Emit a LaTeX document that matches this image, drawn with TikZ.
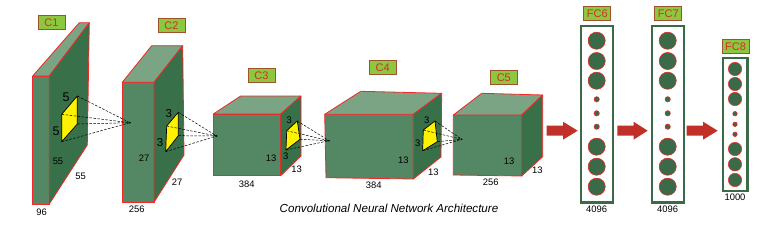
\documentclass[tikz,border=0pt]{standalone}
\usepackage{fontspec}
\setmainfont{Liberation Sans}
\definecolor{frontc}{RGB}{84,136,100}
\definecolor{topc}{RGB}{122,164,132}
\definecolor{sidec}{RGB}{56,112,74}
\definecolor{edgec}{RGB}{240,40,40}
\definecolor{labfill}{RGB}{141,198,63}
\definecolor{labdraw}{RGB}{160,82,45}
\definecolor{labtext}{RGB}{205,50,40}
\definecolor{fcgreen}{RGB}{58,106,72}
\definecolor{arrowc}{RGB}{192,48,40}
\begin{document}
\begin{tikzpicture}[x=1pt,y=-1pt,
  front/.style={fill=frontc,draw=edgec,line width=0.8pt,line join=round},
  topf/.style={fill=topc,draw=edgec,line width=0.8pt,line join=round},
  sidef/.style={fill=sidec,draw=edgec,line width=0.8pt,line join=round},
  kern/.style={fill=yellow,draw=black,line width=0.7pt,line join=round},
  dline/.style={draw=black,dash pattern=on 2.5pt off 1.5pt,line width=0.5pt},
  lab/.style={draw=labdraw,fill=labfill,text=labtext,line width=0.7pt,minimum width=27pt,minimum height=13.5pt,inner sep=0pt,font=\fontsize{11}{11}\selectfont},
  num/.style={font=\fontsize{9.4}{10}\selectfont,inner sep=0pt},
  fcbox/.style={draw=fcgreen,line width=2.4pt},
  bigc/.style={fill=fcgreen,draw=edgec,line width=0.5pt},
  arr/.style={fill=arrowc,draw=none}]
\useasboundingbox (0,0) rectangle (780,225);

% ---------- C1
\draw[front] (32.7,76) -- (49.3,76) -- (49.3,204) -- (32.7,204) -- cycle;
\draw[topf] (32.7,76) -- (79.3,22.7) -- (89.3,22.7) -- (49.3,76) -- cycle;
\draw[sidef] (49.3,76) -- (89.3,22.7) -- (87.3,145) -- (49.3,204) -- cycle;
\coordinate (k1a) at (61.7,114.3);
\coordinate (k1b) at (77.3,96);
\coordinate (k1c) at (77.3,124);
\coordinate (k1d) at (61.7,141.7);
\coordinate (t1) at (130,122.7);
\draw[kern] (k1a) -- (k1b) -- (k1c) -- (k1d) -- cycle;
\node[font=\fontsize{12.5}{12}\selectfont,inner sep=0pt] (f1a) at (66,97.7) {5};
\node[font=\fontsize{12.5}{12}\selectfont,inner sep=0pt] (f1b) at (56,131.7) {5};
\node[num] (n1a) at (58,161.7) {55};
\node[num] (n1b) at (80.7,176.7) {55};
\node[num] (n1c) at (41.7,212.3) {96};
\node[lab] (L1) at (51.5,22.5) {C1};

% ---------- C2
\draw[front] (122.3,82.3) -- (154,82.3) -- (154,202.3) -- (122.3,202.3) -- cycle;
\draw[topf] (122.3,82.3) -- (151.7,45.7) -- (182.7,45.7) -- (154,82.3) -- cycle;
\draw[sidef] (154,82.3) -- (182.7,45.7) -- (184,155) -- (154,202.3) -- cycle;
\coordinate (k2a) at (166.7,126);
\coordinate (k2b) at (178.3,112.3);
\coordinate (k2c) at (178.3,135.7);
\coordinate (k2d) at (165.7,151.7);
\coordinate (t2) at (216.7,136);
\draw[kern] (k2a) -- (k2b) -- (k2c) -- (k2d) -- cycle;
\node[font=\fontsize{11.5}{11}\selectfont,inner sep=0pt] (f2a) at (168.7,114) {3};
\node[font=\fontsize{11.5}{11}\selectfont,inner sep=0pt] (f2b) at (160,142.3) {3};
\node[num] (n2a) at (144,158.7) {27};
\node[num] (n2b) at (177,182.3) {27};
\node[num] (n2c) at (136.7,209.3) {256};
\node[lab] (L2) at (171.5,25.3) {C2};

% ---------- C3
\draw[front] (213.3,114) -- (280.7,114) -- (280.7,175.7) -- (213.3,175.7) -- cycle;
\draw[topf] (213.3,114) -- (240.7,96) -- (301,96) -- (280.7,114) -- cycle;
\draw[sidef] (280.7,114) -- (301,96) -- (301,156) -- (280.7,175.7) -- cycle;
\coordinate (k3a) at (286.7,130.7);
\coordinate (k3b) at (297.3,121);
\coordinate (k3c) at (300,139.3);
\coordinate (k3d) at (286,150);
\coordinate (t3) at (329,140.7);
\draw[kern] (k3a) -- (k3b) -- (k3c) -- (k3d) -- cycle;
\node[font=\fontsize{9.5}{9}\selectfont,inner sep=0pt] (f3a) at (289.3,120) {3};
\node[font=\fontsize{9.5}{9}\selectfont,inner sep=0pt] (f3b) at (285.7,156.7) {3};
\node[num] (n3a) at (271,158.3) {13};
\node[num] (n3b) at (296.7,169.3) {13};
\node[num] (n3c) at (246.7,184) {384};
\node[lab] (L3) at (261.5,75.3) {C3};

% ---------- C4
\draw[front] (324.7,114.3) -- (413.3,114.3) -- (413.3,179) -- (326,177.7) -- cycle;
\draw[topf] (324.7,114.3) -- (360.7,91.3) -- (441.7,93.3) -- (413.3,114.3) -- cycle;
\draw[sidef] (413.3,114.3) -- (441.7,93.3) -- (441,157) -- (413.3,179) -- cycle;
\coordinate (k4a) at (423.3,130);
\coordinate (k4b) at (435,121);
\coordinate (k4c) at (437.3,141.7);
\coordinate (k4d) at (422.7,150.7);
\coordinate (t4) at (461.7,139.3);
\draw[kern] (k4a) -- (k4b) -- (k4c) -- (k4d) -- cycle;
\node[font=\fontsize{9.5}{9}\selectfont,inner sep=0pt] (f4a) at (426.7,120) {3};
\node[font=\fontsize{9.5}{9}\selectfont,inner sep=0pt] (f4b) at (417.7,143.3) {3};
\node[num] (n4a) at (403.3,160) {13};
\node[num] (n4b) at (433.3,172.7) {13};
\node[num] (n4c) at (373.7,185) {384};
\node[lab] (L4) at (382.7,67.5) {C4};

% ---------- C5
\draw[front] (453.3,115) -- (521.7,115) -- (521.7,176) -- (453.3,175) -- cycle;
\draw[topf] (453.3,115) -- (481.7,93.3) -- (542.7,95) -- (521.7,115) -- cycle;
\draw[sidef] (521.7,115) -- (542.7,95) -- (542.7,156.7) -- (521.7,176) -- cycle;
\node[num] (n5a) at (509,161) {13};
\node[num] (n5b) at (537.3,170) {13};
\node[num] (n5c) at (490.7,182.7) {256};
\node[lab] (L5) at (503.8,77.5) {C5};

% ---------- dashed receptive-field lines (on top)
\foreach \k/\t in {k1/t1,k2/t2,k3/t3,k4/t4}{
  \foreach \c in {a,b,c,d} \draw[dline] (\k\c) -- (\t);
  \fill (\t) circle (0.9pt);
}

% ---------- arrows
\fill[arr] (546.7,125.7) -- (563,125.7) -- (563,121.7) -- (577.7,130.7) -- (563,139.7) -- (563,135.7) -- (546.7,135.7) -- cycle;
\fill[arr] (617.3,125.7) -- (633.5,125.7) -- (633.5,121.7) -- (647.7,130.7) -- (633.5,139.7) -- (633.5,135.7) -- (617.3,135.7) -- cycle;
\fill[arr] (686.7,125.7) -- (703,125.7) -- (703,121.7) -- (717.7,130.7) -- (703,139.7) -- (703,135.7) -- (686.7,135.7) -- cycle;

% ---------- FC6
\draw[fcbox] (580.7,26) rectangle (612.7,202.3);
\foreach \y in {40.7,61,80.7,146.7,166.7,186.7} \draw[bigc] (596.7,\y) circle (8.6);
\foreach \y in {99.3,113.3,126.7} \draw[bigc] (596.7,\y) circle (2.7);
\node[lab] (L6) at (597.3,13.3) {FC6};
\node[num] (n6) at (596.7,209.3) {4096};

% ---------- FC7
\draw[fcbox] (651.7,26) rectangle (684,202.3);
\foreach \y in {40.7,61,80.7,146.7,166.7,186.7} \draw[bigc] (667.7,\y) circle (8.6);
\foreach \y in {99.3,113.3,126.7} \draw[bigc] (667.7,\y) circle (2.7);
\node[lab] (L7) at (668.3,13.3) {FC7};
\node[num] (n7) at (667.7,209.3) {4096};

% ---------- FC8
\draw[fcbox] (722.7,58) rectangle (747.3,190.7);
\foreach \y in {69,84,99,149,164.3,180} \draw[bigc] (735,\y) circle (6.7);
\foreach \y in {113.7,124.3,134.3} \draw[bigc] (735,\y) circle (2.3);
\node[lab] (L8) at (735.5,46.3) {FC8};
\node[num] (n8) at (735,197.3) {1000};

% ---------- caption
\node[font=\fontsize{11.6}{12}\selectfont\itshape,inner sep=0pt] (cap) at (389,208) {Convolutional Neural Network Architecture};
\end{tikzpicture}
\end{document}
